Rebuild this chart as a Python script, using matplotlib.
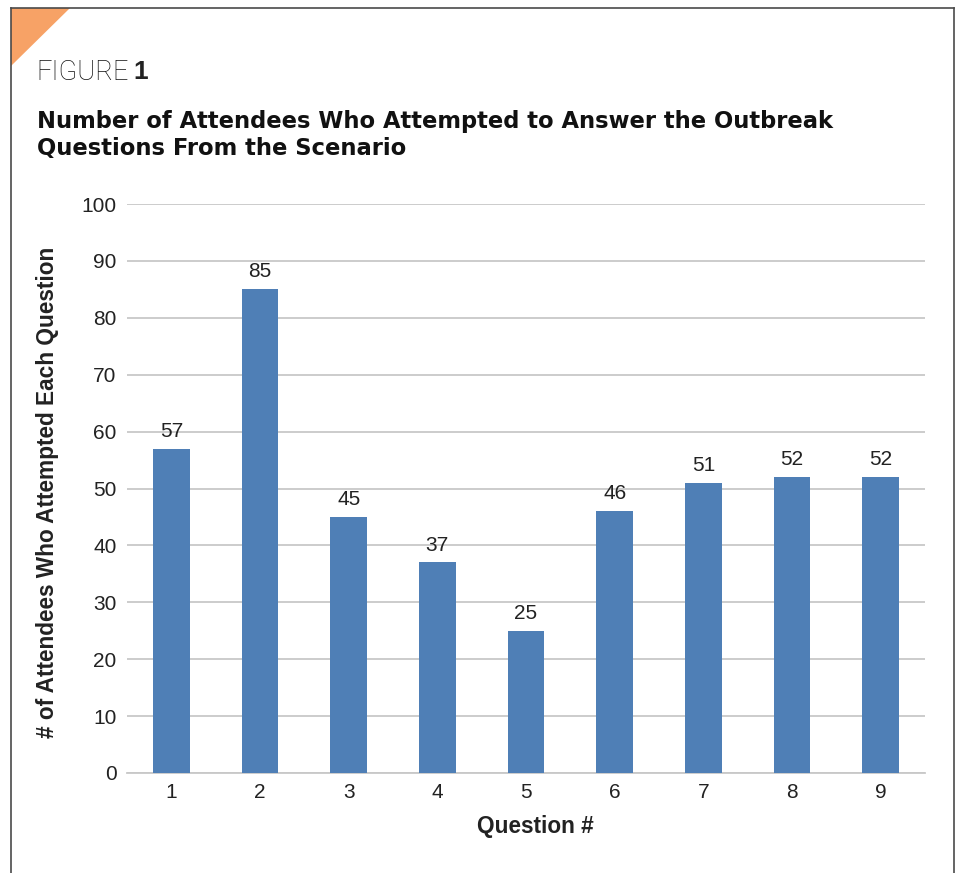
import matplotlib
matplotlib.use("Agg")
import matplotlib.pyplot as plt
from matplotlib import font_manager
from matplotlib.patches import Polygon
from matplotlib.lines import Line2D

# data
questions = ["1", "2", "3", "4", "5", "6", "7", "8", "9"]
attempted = [57, 85, 45, 37, 25, 46, 51, 52, 52]
y_ticks = [0, 10, 20, 30, 40, 50, 60, 70, 80, 90, 100]


def lib_sans(bold=False, size=14):
    # pick the regular-width Liberation Sans file explicitly (avoid Narrow)
    for f in font_manager.fontManager.ttflist:
        fn = f.fname.lower()
        if "liberationsans" in fn.replace("-", "").replace("_", "") and "narrow" not in fn:
            isbold = "bold" in fn
            if isbold == bold and "italic" not in fn:
                return font_manager.FontProperties(fname=f.fname, size=size)
    return font_manager.FontProperties(family="Liberation Sans",
                                       weight="bold" if bold else "normal", size=size)


W, H = 956, 873
fig = plt.figure(figsize=(W / 100, H / 100), dpi=100)
fig.patch.set_facecolor("white")

def fx(px):
    return px / W

def fy(py):
    return 1 - py / H

# outer frame (left, top, right) and orange corner
frame_col = "#4a4a4a"
fig.add_artist(Line2D([fx(11), fx(11)], [fy(8), 0], color=frame_col, lw=1.2, transform=fig.transFigure))
fig.add_artist(Line2D([fx(11), fx(954)], [fy(8), fy(8)], color=frame_col, lw=1.2, transform=fig.transFigure))
fig.add_artist(Line2D([fx(954), fx(954)], [fy(8), 0], color=frame_col, lw=1.2, transform=fig.transFigure))
fig.add_artist(Polygon([[fx(11), fy(8)], [fx(70), fy(8)], [fx(11), fy(66)]],
                       closed=True, facecolor="#f7a266", edgecolor="none", transform=fig.transFigure))

# header
fig.text(fx(36), fy(72), "FIGURE", fontsize=19.5, family="Roboto", fontweight="light",
         color="#111111", va="center", ha="left")
fig.text(fx(133), fy(72), "1", fontproperties=lib_sans(True, 19),
         color="#222222", va="center", ha="left")
fig.text(fx(37), fy(135), "Number of Attendees Who Attempted to Answer the Outbreak\nQuestions From the Scenario",
         fontsize=16.3, family="DejaVu Sans", fontweight="bold", color="#111111",
         va="center", ha="left", linespacing=1.25)

ax = fig.add_axes([fx(127), fy(773), fx(925) - fx(127), fy(204) - fy(773)])
x = list(range(len(questions)))
bars = ax.bar(x, attempted, width=0.41, color="#4f7fb6", zorder=3)
for xi, v in zip(x, attempted):
    ax.text(xi, v + 1.4, str(v), ha="center", va="bottom",
            fontproperties=lib_sans(False, 15), color="#222222")

ax.set_xlim(-0.5, len(questions) - 0.5)
ax.set_ylim(0, 100)
ax.set_yticks(y_ticks)
ax.set_xticks(x)
ax.set_xticklabels(questions)
ax.grid(axis="y", color="#c8c8c8", lw=1.3, zorder=0)
for s in ["top", "right", "left"]:
    ax.spines[s].set_visible(False)
ax.spines["bottom"].set_color("#c8c8c8")
ax.spines["bottom"].set_linewidth(1.3)
ax.tick_params(axis="both", length=0, colors="#222222")
ax.tick_params(axis="y", pad=7.5)
ax.tick_params(axis="x", pad=7)
for lab in ax.get_xticklabels() + ax.get_yticklabels():
    lab.set_fontproperties(lib_sans(False, 15))

fig.text(fx(535), fy(826), "Question #", ha="center", va="center",
         fontproperties=lib_sans(True, 16.3), color="#222222")
fig.text(fx(48), fy(492), "# of Attendees Who Attempted Each Question", ha="center", va="center",
         rotation=90, fontproperties=lib_sans(True, 16.3), color="#222222")

fig.savefig("out.png", dpi=100)
